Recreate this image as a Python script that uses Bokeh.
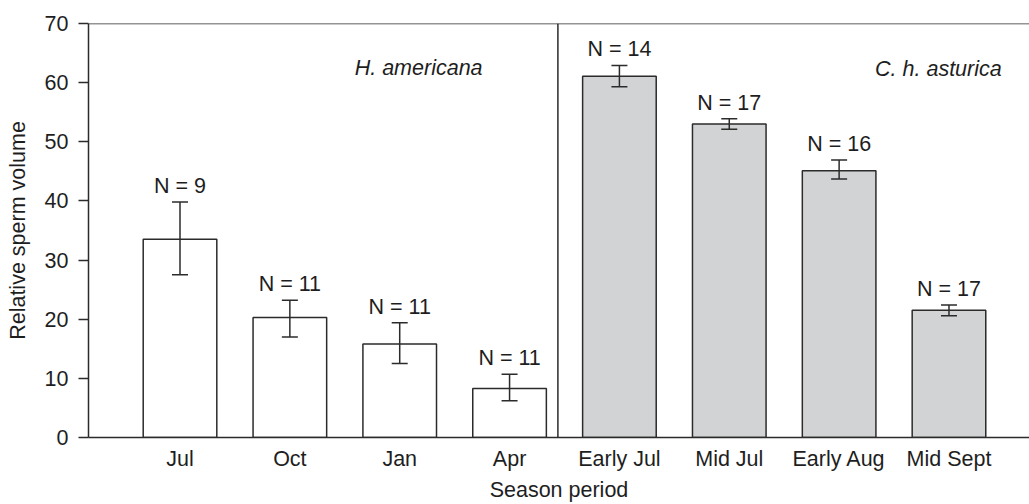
from bokeh.plotting import figure
from bokeh.models import ColumnDataSource, Whisker, TeeHead, Span, Label, FixedTicker
from bokeh.core.properties import value
from bokeh.embed import file_html
from bokeh.resources import INLINE

categories = ["Jul", "Oct", "Jan", "Apr", "Early Jul", "Mid Jul", "Early Aug", "Mid Sept"]
means = [33.5, 20.3, 15.8, 8.3, 61.1, 53.0, 45.1, 21.5]
err_upper = [39.8, 23.2, 19.4, 10.7, 62.9, 53.9, 46.9, 22.4]
err_lower = [27.5, 17.0, 12.5, 6.2, 59.3, 52.1, 43.7, 20.6]
n_labels = ["N = 9", "N = 11", "N = 11", "N = 11", "N = 14", "N = 17", "N = 16", "N = 17"]
groups = ["H. americana"] * 4 + ["C. h. asturica"] * 4
y_ticks = [0, 10, 20, 30, 40, 50, 60, 70]

FONT = "Liberation Sans"
FS = "21.5px"
LINE = "#2b2b2b"
TEXT = "#1e1e1e"
fills = ["#ffffff" if g == "H. americana" else "#d1d3d4" for g in groups]
xs = list(range(len(categories)))

src = ColumnDataSource(dict(x=xs, top=means, up=err_upper, lo=err_lower,
                            lab=n_labels, fill=fills))

p = figure(width=1029, height=504, output_backend="svg", toolbar_location=None,
           x_range=(-0.833, 7.733), y_range=(0, 70),
           min_border_left=88, min_border_top=23, min_border_bottom=67,
           min_border_right=0)
p.outline_line_color = None
p.background_fill_color = "white"
p.border_fill_color = "white"
p.xgrid.visible = False
p.ygrid.visible = False

p.vbar(x="x", top="top", bottom=0, width=0.67, source=src, fill_color="fill",
       line_color=LINE, line_width=1.5)

w = Whisker(base="x", upper="up", lower="lo", source=src, line_color=LINE, line_width=1.5,
            level="overlay",
            upper_head=TeeHead(size=16, line_color=LINE, line_width=1.5),
            lower_head=TeeHead(size=16, line_color=LINE, line_width=1.5))
p.add_layout(w)

p.text(x="x", y="up", text="lab", source=src, y_offset=-16, text_align="center",
       text_baseline="alphabetic", text_font=value(FONT), text_font_size=FS,
       text_color=TEXT)

p.add_layout(Span(location=70, dimension="width", line_color=LINE, line_width=1.5))
p.add_layout(Span(location=3.44, dimension="height", line_color=LINE, line_width=1.5))

p.add_layout(Label(x=2.754, y=62.4, text=groups[0], text_align="right",
                   text_baseline="alphabetic", text_font=FONT, text_font_size=FS,
                   text_font_style="italic", text_color=TEXT))
p.add_layout(Label(x=7.48, y=62.3, text=groups[-1], text_align="right",
                   text_baseline="alphabetic", text_font=FONT, text_font_size=FS,
                   text_font_style="italic", text_color=TEXT))

# y axis
ya = p.yaxis[0]
ya.ticker = FixedTicker(ticks=y_ticks)
ya.minor_tick_line_color = None
ya.major_tick_in = 0
ya.major_tick_out = 10
ya.major_tick_line_width = 1.5
ya.major_tick_line_color = LINE
ya.axis_line_color = LINE
ya.axis_line_width = 1.5
ya.major_label_standoff = 10
ya.major_label_text_font = FONT
ya.major_label_text_font_size = FS
ya.major_label_text_color = TEXT
ya.axis_label = "Relative sperm volume"
ya.axis_label_text_font = FONT
ya.axis_label_text_font_size = FS
ya.axis_label_text_font_style = "normal"
ya.axis_label_text_color = TEXT
ya.axis_label_standoff = 12

# x axis
xa = p.xaxis[0]
xa.ticker = FixedTicker(ticks=xs)
xa.major_label_overrides = {i: c for i, c in zip(xs, categories)}
xa.minor_tick_line_color = None
xa.major_tick_in = 0
xa.major_tick_out = 0
xa.axis_line_color = LINE
xa.axis_line_width = 1.5
xa.major_label_standoff = 9
xa.major_label_text_font = FONT
xa.major_label_text_font_size = FS
xa.major_label_text_color = TEXT
xa.axis_label = "Season period"
xa.axis_label_text_font = FONT
xa.axis_label_text_font_size = FS
xa.axis_label_text_font_style = "normal"
xa.axis_label_text_color = TEXT
xa.axis_label_standoff = 4

open("out.html", "w").write(file_html(p, INLINE))
